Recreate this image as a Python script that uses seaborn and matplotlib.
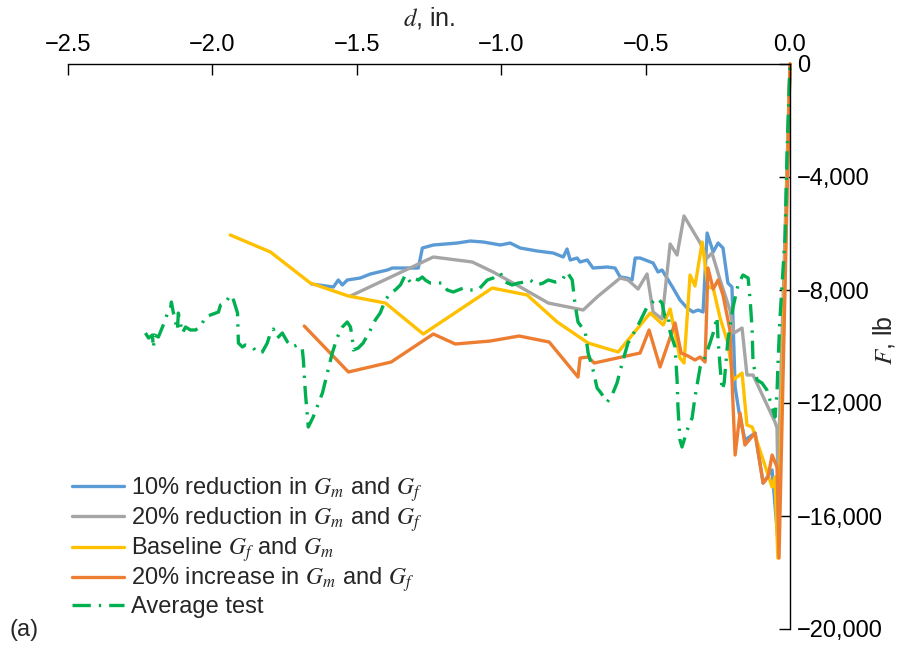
import matplotlib
matplotlib.use("Agg")
import matplotlib.pyplot as plt
from matplotlib.ticker import FuncFormatter, MultipleLocator
import seaborn as sns
import pandas as pd

# displacement d (in.) and force F (lb) for each series
blue_d = [-1.657, -1.581, -1.564, -1.550, -1.533, -1.488, -1.453, -1.394, -1.377, -1.287,
          -1.273, -1.235, -1.152, -1.107, -1.062, -1.003, -0.969, -0.934, -0.875, -0.820,
          -0.785, -0.772, -0.761, -0.737, -0.727, -0.702, -0.682, -0.633, -0.606, -0.588,
          -0.564, -0.547, -0.536, -0.519, -0.474, -0.457, -0.443, -0.426, -0.405, -0.381,
          -0.356, -0.336, -0.318, -0.301, -0.287, -0.266, -0.249, -0.232, -0.215, -0.201,
          -0.190, -0.176, -0.156, -0.121, -0.093, -0.062, -0.042, 0.0]
blue_F = [-7788, -7894, -7646, -7823, -7646, -7576, -7434, -7292, -7222, -7222,
          -6514, -6407, -6337, -6266, -6301, -6407, -6337, -6514, -6620, -6691,
          -6832, -6549, -6938, -6868, -7009, -6938, -7222, -7186, -7222, -7540,
          -7576, -7646, -6868, -6868, -7045, -7363, -7292, -7576, -7930, -8354,
          -8638, -8779, -8708, -8779, -5983, -6655, -6337, -6514, -7753, -7894,
          -11434, -12355, -13310, -13063, -14833, -14372, -16850, 0]

gray_d = [-1.522, -1.235, -1.100, -1.028, -0.934, -0.837, -0.716, -0.668, -0.588, -0.561,
          -0.526, -0.495, -0.474, -0.443, -0.415, -0.391, -0.367, -0.311, -0.287, -0.270,
          -0.242, -0.208, -0.194, -0.166, -0.149, -0.128, -0.052, -0.045, -0.042, 0.0]
gray_F = [-8213, -6832, -7009, -7363, -7894, -8461, -8708, -8248, -7576, -7646,
          -7965, -7434, -8779, -9027, -6372, -6761, -5381, -6337, -6868, -6691,
          -7646, -8708, -9523, -9346, -11009, -11009, -12673, -12886, -14726, 0]

yellow_d = [-1.938, -1.799, -1.661, -1.529, -1.401, -1.270, -1.031, -0.910, -0.806, -0.699,
            -0.595, -0.484, -0.439, -0.415, -0.381, -0.367, -0.346, -0.329, -0.304, -0.284,
            -0.266, -0.242, -0.215, -0.197, -0.166, -0.149, -0.131, -0.062, -0.052, -0.042, 0.0]
yellow_F = [-6053, -6655, -7753, -8213, -8461, -9558, -7930, -8177, -9133, -9877,
            -10195, -8815, -9239, -8673, -10408, -10585, -7469, -7859, -6301, -7894,
            -7930, -8992, -9877, -11186, -10939, -12780, -12850, -14974, -14620, -17488, 0]

orange_d = [-1.682, -1.529, -1.381, -1.235, -1.159, -1.038, -0.938, -0.834, -0.734, -0.727,
            -0.699, -0.678, -0.519, -0.488, -0.450, -0.398, -0.377, -0.353, -0.329, -0.311,
            -0.294, -0.284, -0.266, -0.249, -0.232, -0.208, -0.190, -0.173, -0.156, -0.121,
            -0.093, -0.076, -0.062, -0.045, -0.038, 0.0]
orange_F = [-9275, -10903, -10549, -9558, -9912, -9806, -9629, -9841, -11080, -10408,
            -10372, -10585, -10231, -9416, -10726, -9169, -10231, -10337, -10478, -10372,
            -10549, -7222, -7965, -7646, -8177, -9416, -13841, -12355, -13487, -13063,
            -14833, -14620, -13841, -14266, -17488, 0]

green_d = [-2.232, -2.221, -2.208, -2.204, -2.201, -2.187, -2.173, -2.163, -2.156, -2.145,
           -2.142, -2.135, -2.121, -2.118, -2.104, -2.093, -2.076, -2.059, -2.042, -2.024,
           -2.007, -1.979, -1.972, -1.955, -1.938, -1.927, -1.913, -1.910, -1.896, -1.886,
           -1.858, -1.844, -1.827, -1.810, -1.799, -1.789, -1.775, -1.758, -1.740, -1.723,
           -1.706, -1.689, -1.685, -1.678, -1.668, -1.651, -1.619, -1.602, -1.585, -1.567,
           -1.550, -1.533, -1.522, -1.516, -1.512, -1.495, -1.478, -1.453, -1.436, -1.419,
           -1.401, -1.384, -1.367, -1.349, -1.332, -1.315, -1.304, -1.287, -1.273, -1.263,
           -1.246, -1.221, -1.201, -1.187, -1.166, -1.131, -1.107, -1.080, -1.048, -1.028,
           -1.003, -0.986, -0.962, -0.941, -0.917, -0.900, -0.875, -0.855, -0.837, -0.813,
           -0.789, -0.772, -0.754, -0.744, -0.734, -0.709, -0.699, -0.682, -0.668, -0.657,
           -0.633, -0.616, -0.599, -0.581, -0.561, -0.529, -0.512, -0.495, -0.460, -0.443,
           -0.433, -0.422, -0.415, -0.398, -0.391, -0.388, -0.381, -0.374, -0.356, -0.339,
           -0.329, -0.311, -0.294, -0.277, -0.266, -0.253, -0.249, -0.242, -0.235, -0.228,
           -0.215, -0.197, -0.180, -0.163, -0.145, -0.138, -0.131, -0.128, -0.114, -0.097,
           -0.080, -0.062, -0.052, -0.045, -0.042, -0.035, -0.028, -0.017, -0.010, 0.0]
green_F = [-9523, -9700, -9593, -10054, -9593, -9664, -9310, -9062, -8815, -8638,
           -8425, -8815, -9416, -8815, -9523, -9310, -9416, -9416, -9310, -8956,
           -8885, -8779, -8531, -8461, -8177, -8354, -8815, -9877, -10018, -9947,
           -10054, -10231, -10195, -9877, -9523, -9381, -9700, -9523, -9841, -10018,
           -9947, -10054, -10478, -11647, -12850, -12496, -11647, -10939, -10231, -9664,
           -9310, -9133, -9310, -9664, -10124, -10054, -9877, -9416, -9062, -8815,
           -8354, -8107, -8000, -7823, -7469, -7717, -7576, -7646, -7540, -7646,
           -7753, -7753, -7753, -8000, -8071, -7930, -8000, -8000, -7646, -7576,
           -7399, -7717, -7823, -7753, -7717, -7646, -7823, -7753, -7646, -7717,
           -7646, -7363, -7646, -8531, -9133, -9487, -10231, -10832, -11470, -11611,
           -11965, -11717, -11293, -10585, -9877, -9310, -8956, -8602, -8284, -8461,
           -8956, -8885, -9487, -10018, -11186, -12142, -13310, -13558, -12956, -12532,
           -11788, -10726, -10372, -9877, -9523, -8956, -9770, -10726, -11540, -11293,
           -9770, -8602, -7823, -7469, -7576, -8354, -9416, -10585, -11186, -11293,
           -11540, -12142, -12496, -11647, -10726, -9062, -7894, -6124, -3044, 0]

labels = [
    r"10% reduction in $G_m$ and $G_f$",
    r"20% reduction in $G_m$ and $G_f$",
    r"Baseline $G_f$ and $G_m$",
    r"20% increase in $G_m$ and $G_f$",
    "Average test",
]

sns.set_style("white")
plt.rcParams["font.family"] = ["Liberation Sans", "DejaVu Sans"]
plt.rcParams["mathtext.fontset"] = "stix"

FS = 17
fig = plt.figure(figsize=(9.04, 6.45), dpi=100)
ax = fig.add_axes([68 / 904, 1 - 629 / 645, 722 / 904, 565 / 645])

series = [
    (blue_d, blue_F, "#5B9BD5", "-"),
    (gray_d, gray_F, "#A5A5A5", "-"),
    (yellow_d, yellow_F, "#FFC000", "-"),
    (orange_d, orange_F, "#ED7D31", "-"),
    (green_d, green_F, "#00B050", (0, (5.5, 2.4, 0.7, 2.4))),
]
for (d, F, color, ls), lab in zip(series, labels):
    df = pd.DataFrame({"d": d, "F": F})
    sns.lineplot(data=df, x="d", y="F", sort=False, estimator=None, ax=ax,
                 color=color, linewidth=2.4, linestyle=ls, label=lab, clip_on=False)

ax.set_xlim(-2.5, 0.0)
ax.set_ylim(-20000, 0)

for side in ("left", "bottom"):
    ax.spines[side].set_visible(False)
for side in ("top", "right"):
    ax.spines[side].set_visible(True)
    ax.spines[side].set_color("black")
    ax.spines[side].set_linewidth(1.0)

ax.xaxis.set_ticks_position("top")
ax.xaxis.set_label_position("top")
ax.yaxis.set_ticks_position("right")
ax.xaxis.set_major_locator(MultipleLocator(0.5))
ax.yaxis.set_major_locator(MultipleLocator(4000))
ax.tick_params(axis="x", direction="in", length=8, width=1, pad=6, labelsize=FS, colors="black")
ax.tick_params(axis="y", direction="in", length=8, width=1, pad=5, labelsize=FS, colors="black")


def fmt_x(v, pos):
    s = f"{v:.1f}"
    if s == "-0.0":
        s = "0.0"
    return s.replace("-", "\u2212")


def fmt_y(v, pos):
    if abs(v) < 0.5:
        return "0"
    return f"{v:,.0f}".replace("-", "\u2212")


ax.xaxis.set_major_formatter(FuncFormatter(fmt_x))
ax.yaxis.set_major_formatter(FuncFormatter(fmt_y))

ax.set_xlabel(r"$d$, in.", fontsize=FS + 1, labelpad=6)
ax.set_ylabel("")
fig.text(884 / 904, 1 - 340 / 645, r"$F$, lb", fontsize=FS + 1, rotation=90,
         ha="center", va="center")

leg = ax.legend(loc="upper left", bbox_to_anchor=(72 / 904, 1 - 475 / 645),
                bbox_transform=fig.transFigure, frameon=False, fontsize=FS,
                borderpad=0, borderaxespad=0, handlelength=2.2, handletextpad=0.3,
                labelspacing=0.06)

fig.text(10 / 904, 1 - 630 / 645, "(a)", fontsize=FS, va="center", ha="left")

fig.savefig("out.png", dpi=100, facecolor="white")
